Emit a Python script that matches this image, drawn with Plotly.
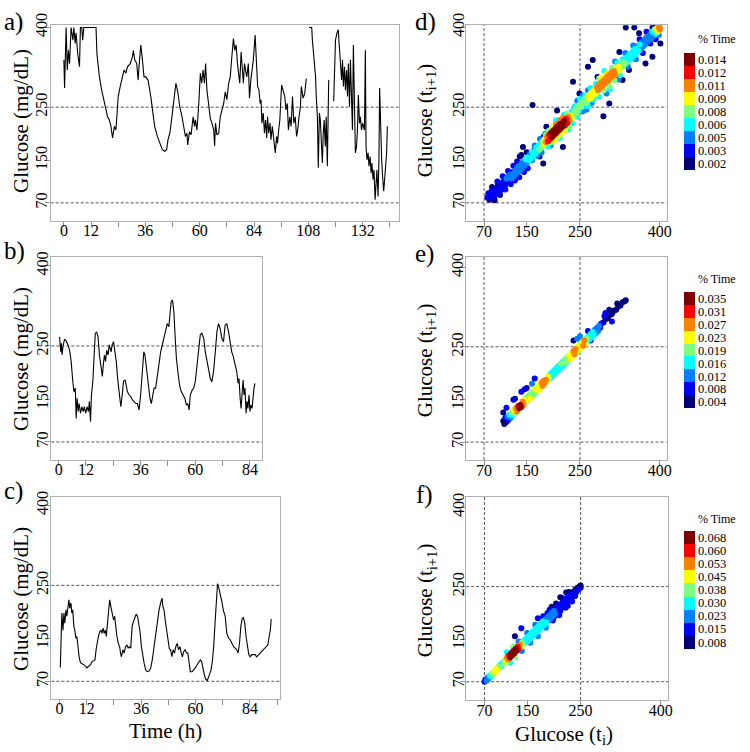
import plotly.graph_objects as go
import numpy as np

W, H = 750, 752
FONT = "Liberation Serif"

# ---------------- time series (hours, mg/dL) ----------------
a_time = [0.0, 0.3, 1.0, 1.5, 2.0, 2.5, 3.2, 4.0, 4.4, 5.0, 5.4, 6.1, 6.9, 7.3, 7.9, 8.3, 8.8, 14.2, 14.6, 15.7,
          16.7, 17.6, 18.6, 19.3, 20.1, 20.8, 21.5, 22.3, 23.0, 23.4, 24.0, 24.9, 25.9, 26.6, 27.4, 28.1, 29.3, 30.3, 30.7, 31.3,
          32.2, 32.8, 33.2, 34.0, 34.7, 35.4, 36.2, 37.2, 38.4, 39.1, 40.1, 41.3, 42.5, 43.5, 44.5, 45.4, 46.0, 46.8, 47.4, 48.2,
          48.9, 49.5, 50.3, 51.2, 52.2, 53.0, 53.7, 54.4, 54.7, 55.5, 56.2, 57.1, 57.7, 58.1, 58.8, 59.6, 60.3, 60.9, 61.5, 62.1,
          62.6, 63.2, 63.8, 64.7, 65.4, 66.2, 66.6, 67.0, 67.6, 68.4, 69.1, 69.8, 70.6, 71.3, 72.0, 72.8, 73.5, 74.2, 74.9, 75.5,
          76.1, 76.7, 77.3, 77.7, 78.3, 78.9, 79.3, 79.8, 80.4, 80.8, 81.5, 82.0, 82.6, 83.1, 83.7, 84.5, 85.2, 85.6, 86.2, 86.7,
          87.1, 87.5, 88.1, 88.6, 89.1, 89.6, 90.0, 90.5, 91.1, 91.5, 92.1, 92.5, 93.0, 93.4, 94.0, 94.4, 94.9, 95.4, 96.2, 96.9,
          97.6, 98.1, 98.7, 99.2, 99.8, 100.4, 101.0, 101.6, 102.2, 102.8, 103.3, 103.9, 104.5, 104.9, 105.7, 106.4, 107.1, 107.7, 108.3, 109.5,
          109.8, 110.4, 110.8, 111.2, 111.5, 112.0, 112.4, 112.9, 113.3, 113.7, 114.2, 114.6, 115.0, 115.5, 115.9, 116.4, 117.0, 118.0, 119.2, 119.6,
          120.0, 120.6, 121.2, 121.8, 122.2, 122.7, 123.1, 123.5, 124.0, 124.4, 124.9, 125.3, 125.7, 126.2, 126.6, 127.1, 127.5, 127.9, 128.4, 128.8,
          129.3, 129.7, 130.1, 130.6, 131.0, 131.5, 132.0, 132.8, 133.2, 133.5, 133.9, 134.4, 134.8, 135.3, 135.7, 136.1, 136.6, 137.0, 137.5, 137.9,
          138.3, 138.8, 139.2, 139.5, 139.9, 140.4, 140.8, 141.3, 141.7, 142.1, 142.6, 142.9]
a_glucose = [339, 286, 400, 320, 357, 332, 400, 376, 400, 370, 390, 351, 326, 400, 400, 376, 400, 400, 351, 307,
             282, 264, 250, 232, 226, 214, 192, 214, 207, 226, 270, 289, 307, 320, 314, 326, 332, 345, 357, 339,
             332, 301, 326, 367, 339, 307, 307, 301, 270, 245, 214, 195, 182, 170, 167, 170, 189, 201, 220, 251,
             276, 295, 279, 251, 232, 207, 195, 201, 179, 204, 198, 232, 214, 226, 207, 257, 314, 295, 320, 295,
             332, 282, 264, 229, 220, 207, 177, 220, 198, 201, 232, 245, 257, 279, 264, 295, 307, 345, 379, 357,
             367, 332, 314, 295, 354, 320, 295, 332, 314, 307, 332, 267, 301, 320, 339, 386, 326, 289, 282, 257,
             264, 220, 239, 201, 226, 192, 232, 201, 220, 189, 214, 201, 179, 164, 195, 182, 207, 226, 292, 280,
             270, 245, 257, 207, 232, 214, 270, 220, 232, 195, 207, 232, 251, 289, 267, 276, 304, None, 400, 400,
             376, 351, 332, 307, 270, 232, 136, 239, 226, 182, 145, 201, 226, 176, 232, 139, 301, None, 261, 320,
             376, 389, 396, 357, 332, 301, 339, 289, 326, 282, 320, 270, 332, 251, 339, 232, 207, 367, 226, 164,
             176, 207, 273, 220, 232, 207, 220, 207, 357, 176, 151, 164, 139, 157, 126, 145, 114, 132, 76, 120,
             132, 82, 151, 286, 207, 151, 120, 92, 114, 139, 164, 214]

b_time = [0.4, 0.9, 1.2, 1.5, 1.9, 2.6, 3.3, 4.1, 4.8, 5.5, 6.1, 6.7, 7.3, 7.7, 8.1, 8.6, 9.0, 9.6, 10.2, 10.8,
          11.3, 11.9, 12.5, 13.1, 13.5, 14.0, 14.4, 15.0, 15.6, 16.1, 16.7, 17.3, 17.9, 18.6, 19.2, 19.6, 20.1, 20.6, 21.1, 21.7,
          22.2, 23.0, 23.5, 24.1, 24.7, 25.3, 25.9, 26.6, 27.3, 27.9, 28.5, 29.2, 29.8, 30.2, 31.0, 31.7, 32.4, 33.1, 33.9, 34.6,
          35.3, 36.0, 36.8, 37.4, 37.9, 38.7, 39.4, 40.1, 40.7, 41.3, 41.9, 42.6, 43.3, 44.0, 44.8, 45.5, 46.2, 46.9, 47.7, 48.4,
          48.8, 49.4, 50.0, 50.6, 51.2, 51.7, 52.5, 53.2, 53.9, 54.7, 55.4, 56.1, 56.7, 57.3, 57.8, 58.6, 59.3, 60.0, 60.8, 61.5,
          62.2, 62.9, 63.7, 64.4, 65.1, 65.8, 66.6, 67.3, 68.0, 68.8, 69.5, 70.2, 70.9, 71.7, 72.4, 73.1, 73.8, 74.6, 75.3, 76.0,
          76.7, 77.5, 78.2, 78.8, 79.2, 79.7, 80.1, 80.5, 81.0, 81.4, 81.8, 82.3, 82.7, 83.1, 83.6, 84.0, 84.4, 84.9, 85.3, 85.8,
          86.2]
b_glucose = [267, 239, 255, 233, 249, 263, 259, 252, 242, 221, 189, 164, 171, 114, 152, 127, 142, 124, 136, 127,
             136, 124, 136, 127, 146, 108, 158, 183, 233, 274, 276, 267, 233, 208, 193, 214, 233, 221, 242, 233,
             252, 239, 252, 258, 239, 221, 189, 158, 136, 158, 184, 186, 174, 164, 158, 155, 149, 146, 142, 142,
             130, 158, 214, 239, 233, 202, 171, 152, 142, 158, 171, 171, 189, 214, 239, 252, 264, 277, 292, 286,
             302, 333, 336, 314, 264, 227, 196, 174, 164, 158, 152, 139, 142, 130, 158, 167, 171, 183, 214, 252,
             271, 274, 264, 239, 221, 208, 189, 183, 202, 239, 277, 292, 283, 264, 258, 289, 292, 277, 255, 239,
             230, 214, 202, 180, 189, 152, 133, 158, 186, 158, 171, 124, 146, 133, 158, 127, 139, 133, 158, 171,
             180]

c_time = [0.3, 0.7, 1.0, 1.5, 1.9, 2.3, 2.8, 3.2, 3.7, 4.1, 4.5, 5.0, 5.4, 5.8, 6.3, 6.7, 7.2, 7.6, 8.0, 8.6,
          9.2, 9.9, 10.7, 11.4, 12.1, 12.9, 13.6, 14.3, 15.1, 15.6, 16.1, 16.5, 17.1, 17.7, 18.3, 18.7, 19.2, 19.7, 20.2, 20.6,
          21.1, 21.5, 22.1, 22.5, 23.0, 23.4, 23.8, 24.3, 24.7, 25.3, 25.9, 26.5, 26.9, 27.3, 27.9, 28.5, 29.1, 29.7, 30.3, 30.8,
          31.4, 32.0, 32.6, 33.2, 33.8, 34.4, 34.9, 35.5, 36.1, 36.7, 37.3, 38.0, 38.7, 39.5, 40.2, 40.9, 41.7, 42.4, 43.1, 43.9,
          44.6, 45.2, 45.6, 46.1, 46.6, 47.2, 47.8, 48.4, 49.0, 49.6, 50.1, 50.7, 51.3, 51.9, 52.5, 53.1, 53.7, 54.2, 54.8, 55.4,
          56.0, 56.6, 57.2, 57.7, 58.5, 59.2, 59.9, 60.7, 61.4, 62.1, 62.7, 63.3, 63.9, 64.5, 65.1, 65.6, 66.2, 66.8, 67.4, 68.0,
          68.6, 69.2, 69.7, 70.3, 70.9, 71.6, 72.4, 73.1, 73.8, 74.6, 75.3, 76.0, 76.8, 77.5, 78.2, 78.8, 79.4, 80.0, 80.6, 81.1,
          81.7, 82.3, 82.9, 83.5, 84.1, 84.8, 85.5, 86.3, 87.0, 87.7, 88.5, 89.2, 89.9, 90.6, 91.4, 91.9, 92.5, 93.0, 93.4]
c_glucose = [96, 154, 198, 166, 198, 179, 204, 192, 213, 223, 207, 217, 198, 204, 173, 166, 151, 154, 141, 116,
             105, 103, 101, 99, 95, 98, 101, 107, 110, 110, 129, 141, 154, 163, 166, 160, 170, 160, 166, 154,
             179, 192, 223, 213, 204, 195, 185, 192, 173, 154, 141, 135, 123, 116, 129, 123, 135, 138, 132, 135,
             132, 173, 182, 188, 196, 192, 179, 163, 135, 116, 104, 91, 88, 89, 95, 110, 135, 166, 188, 204,
             217, 226, 210, 204, 185, 166, 148, 132, 129, 116, 129, 123, 135, 141, 129, 135, 123, 116, 126, 129,
             123, 123, 104, 88, 88, 91, 95, 101, 107, 110, 107, 91, 82, 74, 71, 76, 85, 91, 107, 135,
             179, 229, 253, 245, 235, 220, 201, 192, 160, 151, 148, 141, 135, 132, 129, 123, 141, 173, 188, 190,
             179, 154, 135, 120, 116, 120, 120, 120, 116, 120, 123, 126, 129, 132, 135, 138, 154, 166, 187]

# ---------------- Poincare plots: glucose(t_i), glucose(t_i+1), density level (0..8) ----------------
d_gt = [76, 78, 80, 82, 84, 86, 88, 90, 92, 94, 96, 98, 100, 102, 104, 106, 108, 110, 112, 114,
        116, 118, 120, 122, 124, 126, 128, 130, 132, 134, 136, 138, 140, 142, 144, 146, 148, 150,
        85, 90, 95, 100, 105, 110, 115, 120, 125, 128, 132, 136, 140, 145, 150, 152,
        152, 154, 156, 158, 160, 162, 164, 166, 168, 170, 172, 174, 176, 178, 180, 160, 165, 170, 175, 178, 182,
        182, 184, 186, 188, 190, 192, 194, 196, 198, 200, 202, 204, 206, 208, 210, 212, 214, 216, 218, 220,
        222, 224, 226, 228, 230, 232, 234,
        186, 190, 192, 196, 198, 202, 205, 208, 212, 214, 218, 222, 226, 230, 234, 236, 185, 195, 205, 212, 220, 228, 240,
        238, 240, 242, 244, 246, 248, 250, 252, 254, 256, 258, 260, 262, 264, 266, 268, 270, 272, 274, 276,
        278, 280, 282, 284, 286,
        240, 245, 250, 255, 260, 265, 270, 275, 280, 285, 245, 255, 265, 262, 272,
        288, 290, 292, 294, 296, 298, 300, 302, 304, 306, 308, 310, 312, 314, 316, 318, 320, 322, 324, 326,
        290, 295, 300, 305, 310, 315, 320, 325, 330, 296, 306, 316, 322, 300, 286,
        328, 330, 332, 334, 336, 338, 340, 342, 344, 346, 348, 350, 352, 354, 356, 358, 360, 362, 364, 366,
        368, 370, 372, 374, 376, 378, 380, 382, 384, 386, 388, 390, 392, 394, 396, 398, 400, 400,
        335, 340, 350, 355, 362, 368, 375, 382, 388, 392, 398,
        161, 143, 137, 181, 174, 187, 207, 218, 237, 249, 274, 283, 294, 305, 324, 336, 352, 361, 386, 401,
        386, 373, 355, 342, 330, 265, 255]
d_gt1 = [80, 88, 76, 84, 92, 80, 90, 84, 96, 88, 102, 92, 100, 94, 108, 100, 112, 104, 116, 108,
         120, 110, 124, 116, 128, 120, 130, 124, 136, 128, 140, 132, 144, 136, 148, 140, 152, 144,
         100, 75, 110, 85, 120, 95, 130, 105, 140, 112, 148, 118, 160, 128, 165, 135,
         156, 150, 162, 154, 166, 158, 170, 162, 174, 166, 178, 170, 182, 174, 186, 150, 178, 158, 190, 165, 195,
         180, 190, 184, 194, 186, 198, 190, 202, 194, 206, 198, 210, 202, 214, 206, 218, 210, 220, 214, 224,
         216, 228, 220, 232, 224, 234, 228,
         198, 176, 206, 184, 212, 188, 218, 194, 226, 200, 230, 206, 238, 214, 242, 220, 200, 178, 225, 192, 236, 208, 250,
         240, 234, 246, 240, 252, 244, 256, 250, 260, 252, 264, 258, 268, 260, 272, 266, 276, 268, 280, 274,
         284, 276, 288, 282, 292,
         252, 232, 266, 242, 272, 252, 286, 264, 294, 270, 262, 272, 282, 245, 258,
         286, 296, 290, 300, 294, 304, 298, 308, 300, 312, 306, 316, 308, 318, 312, 322, 316, 326, 320, 330,
         306, 282, 314, 290, 324, 300, 334, 310, 340, 318, 284, 336, 302, 276, 304,
         324, 334, 328, 338, 332, 344, 336, 348, 340, 352, 344, 356, 348, 360, 352, 364, 356, 368, 360, 372,
         364, 376, 368, 380, 372, 384, 376, 388, 380, 392, 384, 396, 388, 398, 392, 400, 396, 400,
         352, 326, 366, 340, 378, 352, 392, 370, 400, 378, 386,
         254, 175, 157, 144, 157, 213, 244, 175, 298, 276, 339, 307, 233, 257, 354, 400, 400, 389, 400, 370,
         345, 332, 364, 320, 301, 326, 263]
d_level = [1, 1, 0, 1, 1, 1, 1, 1, 1, 1, 0, 1, 1, 1, 1, 1, 1, 1, 2, 1,
           2, 1, 2, 2, 1, 2, 2, 2, 2, 2, 2, 2, 2, 2, 2, 2, 3, 2,
           0, 0, 1, 0, 1, 1, 1, 1, 1, 1, 1, 1, 0, 1, 0, 1,
           3, 3, 2, 3, 3, 3, 2, 3, 3, 3, 3, 4, 3, 4, 4, 2, 2, 2, 2, 2, 1,
           5, 5, 6, 6, 7, 7, 7, 8, 8, 8, 8, 8, 8, 8, 8, 8, 8, 8, 8, 8,
           7, 7, 7, 6, 6, 5, 5,
           4, 3, 4, 4, 5, 5, 6, 5, 6, 5, 6, 5, 4, 4, 3, 3, 2, 2, 3, 3, 3, 3, 2,
           4, 4, 4, 4, 4, 3, 4, 4, 4, 3, 4, 4, 4, 4, 5, 5, 5, 5, 5, 5,
           5, 5, 6, 6, 6,
           3, 3, 3, 2, 3, 3, 3, 3, 3, 3, 2, 2, 2, 2, 2,
           6, 6, 6, 6, 6, 6, 6, 6, 6, 6, 6, 6, 6, 6, 6, 5, 5, 5, 5, 4,
           5, 4, 5, 4, 4, 4, 3, 3, 3, 3, 3, 2, 2, 2, 4,
           4, 4, 4, 3, 4, 3, 3, 3, 3, 3, 3, 3, 3, 3, 3, 2, 3, 3, 2, 2,
           2, 2, 2, 2, 2, 2, 2, 2, 2, 3, 2, 4, 3, 5, 5, 6, 6, 6,
           2, 2, 2, 2, 1, 1, 1, 1, 1, 1, 2,
           0, 0, 0, 0, 0, 0, 0, 0, 0, 0, 0, 0, 0, 0, 0, 0, 0, 0, 0, 0,
           0, 0, 0, 0, 0, 0, 0]

e_gt = [106, 108, 110, 112, 114, 116, 118, 120, 122, 124, 126, 128, 130, 132, 134, 136, 138, 140, 142, 144,
        146, 148, 150, 152, 154, 156, 158, 160, 162, 164, 166, 168, 170, 172, 174, 176, 178, 180, 182, 184,
        186, 188, 190, 192, 194, 196, 198, 200, 202, 204, 206, 208, 210, 212, 214, 216, 218, 220, 222, 224,
        226, 228, 230, 232, 234, 236, 238, 240, 242, 244, 246, 248, 250, 252, 254, 256, 258, 260, 262, 264,
        266, 268, 270, 272, 274, 276, 278, 280, 282, 284, 286, 288, 290, 294, 298, 302, 306, 310, 314, 318,
        322, 326, 330, 334, 336,
        112, 106, 125, 128, 140, 146, 150, 165, 160, 172, 238, 245, 250, 265, 270, 298, 305, 310, 296, 320]
e_gt1 = [110, 104, 116, 108, 118, 112, 122, 116, 126, 120, 130, 124, 134, 128, 138, 134, 140, 136, 146, 140,
         150, 146, 154, 148, 158, 152, 162, 156, 166, 160, 170, 164, 174, 168, 178, 172, 182, 176, 186, 182,
         188, 184, 194, 188, 198, 192, 202, 196, 206, 200, 210, 204, 214, 208, 218, 212, 222, 216, 226, 220,
         230, 224, 234, 228, 238, 232, 242, 236, 246, 240, 250, 244, 254, 248, 258, 252, 262, 256, 266, 260,
         270, 264, 274, 268, 278, 272, 282, 276, 286, 280, 290, 286, 294, 296, 302, 304, 310, 312, 318, 320,
         326, 328, 334, 336, 338,
         135, 126, 150, 152, 165, 170, 172, 190, 180, 172, 262, 265, 270, 280, 262, 314, 320, 298, 308, 332]
e_level = [0, 0, 1, 0, 2, 1, 3, 2, 4, 3, 5, 4, 6, 6, 7, 8, 8, 7, 6, 6,
           5, 5, 4, 4, 4, 5, 4, 4, 4, 4, 5, 4, 5, 5, 5, 5, 6, 6, 6, 6,
           6, 5, 5, 4, 3, 3, 3, 3, 3, 3, 3, 3, 3, 3, 4, 3, 3, 3, 4, 4,
           4, 4, 5, 5, 5, 5, 6, 6, 6, 5, 5, 4, 4, 5, 5, 6, 6, 5, 4, 3,
           3, 3, 3, 3, 3, 3, 2, 2, 2, 2, 2, 1, 1, 0, 0, 0, 0, 0, 0, 0,
           0, 0, 0, 0, 0,
           1, 0, 1, 0, 1, 1, 0, 1, 2, 2, 0, 2, 2, 1, 1, 1, 0, 1, 1, 0]

f_gt = [70, 72, 74, 76, 78, 80, 82, 84, 86, 88, 90, 92, 94, 96, 98, 100, 102, 104, 106, 108,
        110, 112, 114, 116, 118, 120, 122, 124, 126, 128, 130, 132, 134, 136, 138, 140, 142, 144, 146, 148,
        150, 152, 154, 156, 158, 160, 162, 164, 166, 168, 170, 172, 174, 176, 178, 180, 182, 184, 186, 188,
        190, 192, 194, 196, 198, 200, 202, 204, 206, 208, 210, 212, 214, 216, 218, 220, 222, 224, 226, 228,
        230, 232, 234, 236, 238, 240, 242, 244, 246, 248, 250, 250,
        112, 118, 124, 128, 134, 140, 150, 156, 165, 170, 180, 185, 192, 198, 204, 210, 216, 222, 228, 234,
        240, 188, 195, 200, 206, 212, 218, 226,
        127, 139, 223, 170, 196, 212]
f_gt1 = [70, 74, 72, 78, 76, 82, 80, 86, 84, 90, 88, 94, 92, 98, 96, 102, 100, 106, 104, 110,
         108, 116, 112, 120, 116, 124, 120, 128, 124, 132, 128, 136, 132, 140, 136, 144, 140, 148, 144, 152,
         146, 156, 150, 160, 154, 164, 158, 168, 162, 172, 166, 176, 170, 180, 174, 184, 178, 188, 182, 192,
         186, 196, 190, 200, 194, 204, 198, 208, 202, 212, 206, 216, 210, 220, 214, 224, 218, 228, 222, 232,
         226, 236, 230, 240, 236, 244, 240, 248, 244, 250, 248, 252,
         126, 106, 136, 116, 146, 128, 162, 144, 178, 156, 194, 172, 206, 186, 218, 196, 228, 210, 240, 222,
         232, 200, 208, 192, 214, 204, 226, 214,
         156, 171, 239, 190, 212, 230]
f_level = [1, 1, 2, 2, 2, 3, 3, 4, 4, 5, 5, 5, 5, 4, 4, 3, 3, 3, 4, 4,
           5, 6, 6, 7, 8, 8, 8, 8, 8, 8, 8, 7, 7, 6, 5, 4, 4, 3, 3, 3,
           3, 3, 3, 3, 3, 3, 3, 3, 3, 3, 3, 3, 3, 3, 3, 3, 3, 2, 3, 2,
           2, 2, 2, 2, 2, 2, 2, 1, 1, 1, 1, 1, 1, 1, 1, 1, 1, 1, 1, 1,
           1, 1, 1, 0, 1, 0, 1, 0, 1, 0, 0, 0,
           3, 3, 4, 4, 2, 2, 2, 2, 2, 2, 1, 2, 1, 1, 0, 1, 0, 1, 0, 1,
           0, 1, 0, 1, 0, 1, 0, 0,
           0, 1, 0, 1, 0, 0]

# colour legend labels (% Time), bottom to top
d_legend = ["0.002", "0.003", "0.005", "0.006", "0.008", "0.009", "0.011", "0.012", "0.014"]
e_legend = ["0.004", "0.008", "0.012", "0.016", "0.019", "0.023", "0.027", "0.031", "0.035"]
f_legend = ["0.008", "0.015", "0.023", "0.030", "0.038", "0.045", "0.053", "0.060", "0.068"]

# axis tick labels
glucose_ticks = [70, 150, 250, 400]
a_hour_labels = [0, 12, 36, 60, 84, 108, 132]
bc_hour_labels = [0, 12, 36, 60, 84]

jet9 = ["#00007F", "#0000FF", "#007FFF", "#00FFFF", "#7FFF7F", "#FFFF00", "#FF7F00", "#FF0000", "#7F0000"]

for a, b in [(a_time, a_glucose), (b_time, b_glucose), (c_time, c_glucose)]:
    assert len(a) == len(b), (len(a), len(b))
for a, b, c in [(d_gt, d_gt1, d_level), (e_gt, e_gt1, e_level), (f_gt, f_gt1, f_level)]:
    assert len(a) == len(b) == len(c), (len(a), len(b), len(c))

disc_scale = []
for k, col in enumerate(jet9):
    disc_scale.append([k / 9, col])
    disc_scale.append([(k + 1) / 9, col])


def px_x(p):
    return p / W


def fy(p):
    # target picture row -> figure row (the photographed page is offset/squeezed vertically)
    return p * 1.01596 - 12


def px_y(p):
    return 1 - fy(p) / H


fig = go.Figure()

line_panels = [
    (a_time, a_glucose, "x", "y"),
    (b_time, b_glucose, "x2", "y2"),
    (c_time, c_glucose, "x3", "y3"),
]
for t, g, xa, ya in line_panels:
    fig.add_trace(go.Scatter(x=t, y=g, mode="lines", line=dict(color="black", width=1.1),
                             xaxis=xa, yaxis=ya, showlegend=False, hoverinfo="skip", connectgaps=False))

scat_panels = [
    (d_gt, d_gt1, d_level, d_legend, "x4", "y4", 52.7, 170.0),
    (e_gt, e_gt1, e_level, e_legend, "x5", "y5", 292.3, 408.3),
    (f_gt, f_gt1, f_level, f_legend, "x6", "y6", 530.7, 648.3),
]
for gx, gy, lev, labels, xa, ya, ctop, cbot in scat_panels:
    gx = np.asarray(gx, float)
    gy = np.asarray(gy, float)
    lev = np.asarray(lev)
    order = np.argsort(lev, kind="stable")
    fig.add_trace(go.Scatter(
        x=gx[order], y=gy[order], mode="markers", xaxis=xa, yaxis=ya, showlegend=False, hoverinfo="skip",
        marker=dict(size=6, color=lev[order], colorscale=disc_scale, cmin=-0.5, cmax=8.5, line=dict(width=0),
                    showscale=True,
                    colorbar=dict(x=px_x(688.3), xanchor="left", y=px_y(ctop), yanchor="top",
                                  len=(fy(cbot) - fy(ctop)) / H, lenmode="fraction", thickness=11,
                                  thicknessmode="pixels", outlinewidth=0, xpad=0, ypad=0, ticks="", ticklen=0,
                                  tickvals=list(range(9)), ticktext=labels,
                                  tickfont=dict(family=FONT, size=12.5, color="black")))))

axis_common = dict(showline=True, linecolor="#b0b0b0", linewidth=1, mirror=True, showgrid=False, zeroline=False,
                   ticks="outside", ticklen=5, tickcolor="#909090", tickwidth=1,
                   tickfont=dict(family=FONT, size=16, color="black"))

hour_minor = dict(tick0=0, dtick=12, ticks="outside", ticklen=5, tickcolor="#909090", tickwidth=1, showgrid=False)

layout = dict(width=W, height=H, margin=dict(l=0, r=0, t=0, b=0), paper_bgcolor="white", plot_bgcolor="white",
              showlegend=False)

boxes = {
    "1": dict(x=(51, 402), y=(25, 221), xr=[-5.84, 148.2], yr=[35.6, 404.3], xt=a_hour_labels, minor=True),
    "2": dict(x=(51.7, 264), y=(257.3, 460), xr=[-3.2, 89.4], yr=[36, 416], xt=bc_hour_labels, minor=True),
    "3": dict(x=(51.7, 281.7), y=(496.7, 699), xr=[-3.64, 97.2], yr=[36.7, 416.3], xt=bc_hour_labels, minor=True),
    "4": dict(x=(469.3, 671), y=(25, 221), xr=[36.4, 412.5], yr=[35.6, 404.3], xt=glucose_ticks, minor=False),
    "5": dict(x=(468.7, 671), y=(256.7, 460), xr=[35.3, 412.5], yr=[36, 420], xt=glucose_ticks, minor=False),
    "6": dict(x=(469.3, 672.7), y=(496.7, 700), xr=[35.8, 414], yr=[35.4, 420], xt=glucose_ticks, minor=False),
}
for k, bx in boxes.items():
    xn = "xaxis" if k == "1" else "xaxis" + k
    yn = "yaxis" if k == "1" else "yaxis" + k
    xid = "x" if k == "1" else "x" + k
    yid = "y" if k == "1" else "y" + k
    xa = dict(axis_common, domain=[px_x(bx["x"][0]), px_x(bx["x"][1])], range=bx["xr"], anchor=yid,
              tickmode="array", tickvals=bx["xt"], ticktext=[str(v) for v in bx["xt"]],
              ticklabelstandoff=-10 if bx["minor"] else -9)
    if bx["minor"]:
        xa["minor"] = hour_minor
    layout[xn] = xa
    layout[yn] = dict(axis_common, domain=[px_y(bx["y"][1]), px_y(bx["y"][0])], range=bx["yr"], anchor=xid,
                      tickmode="array", tickvals=glucose_ticks, ticktext=[str(v) for v in glucose_ticks],
                      tickangle=-90, ticklabelstandoff=-9 if bx["minor"] else -10)

fig.update_layout(**layout)

dash_style = dict(color="#555555", width=1, dash="3px,2px")
shapes = []
for k in ["1", "2", "3", "4", "5", "6"]:
    xid = "x" if k == "1" else "x" + k
    yid = "y" if k == "1" else "y" + k
    for lvl in [70, 250]:
        shapes.append(dict(type="line", xref=xid + " domain", yref=yid, x0=0, x1=1, y0=lvl, y1=lvl,
                           line=dash_style, layer="below"))
        if k in ["4", "5", "6"]:
            shapes.append(dict(type="line", xref=xid, yref=yid + " domain", x0=lvl, x1=lvl, y0=0, y1=1,
                               line=dash_style, layer="below"))
fig.update_layout(shapes=shapes)

ann = []


def text(x, y, s, size, angle=0, xanchor="center", yanchor="middle", raw_fig_y=None):
    yy = (1 - raw_fig_y / H) if raw_fig_y is not None else px_y(y)
    ann.append(dict(x=px_x(x), y=yy, xref="paper", yref="paper", text=s, showarrow=False,
                    textangle=angle, xanchor=xanchor, yanchor=yanchor,
                    font=dict(family=FONT, size=size, color="black")))


text(2, None, "a)", 25, xanchor="left", raw_fig_y=10)
text(416, None, "d)", 25, xanchor="left", raw_fig_y=10)
for lab, x, y in [("b)", 2, 251), ("c)", 2, 491), ("e)", 416, 253.5), ("f)", 417, 494.5)]:
    text(x, y, lab, 25, xanchor="left")
for y in [121, 359, 599]:
    text(21, y, "Glucose (mg/dL)", 21, angle=-90)
for y in [120, 360, 600]:
    text(429, y, "Glucose (t<sub>i+1</sub>)", 21, angle=-90)
text(167, 731, "Time (h)", 21)
text(568, 735, "Glucose (t<sub>i</sub>)", 21)
for y in [39, 279.3, 519.3]:
    text(722, y, "% Time", 12)

fig.update_layout(annotations=ann)
fig.write_html("out.html", config={"displayModeBar": False},
               post_script="document.body.style.margin='0px';document.body.style.overflow='hidden';")
